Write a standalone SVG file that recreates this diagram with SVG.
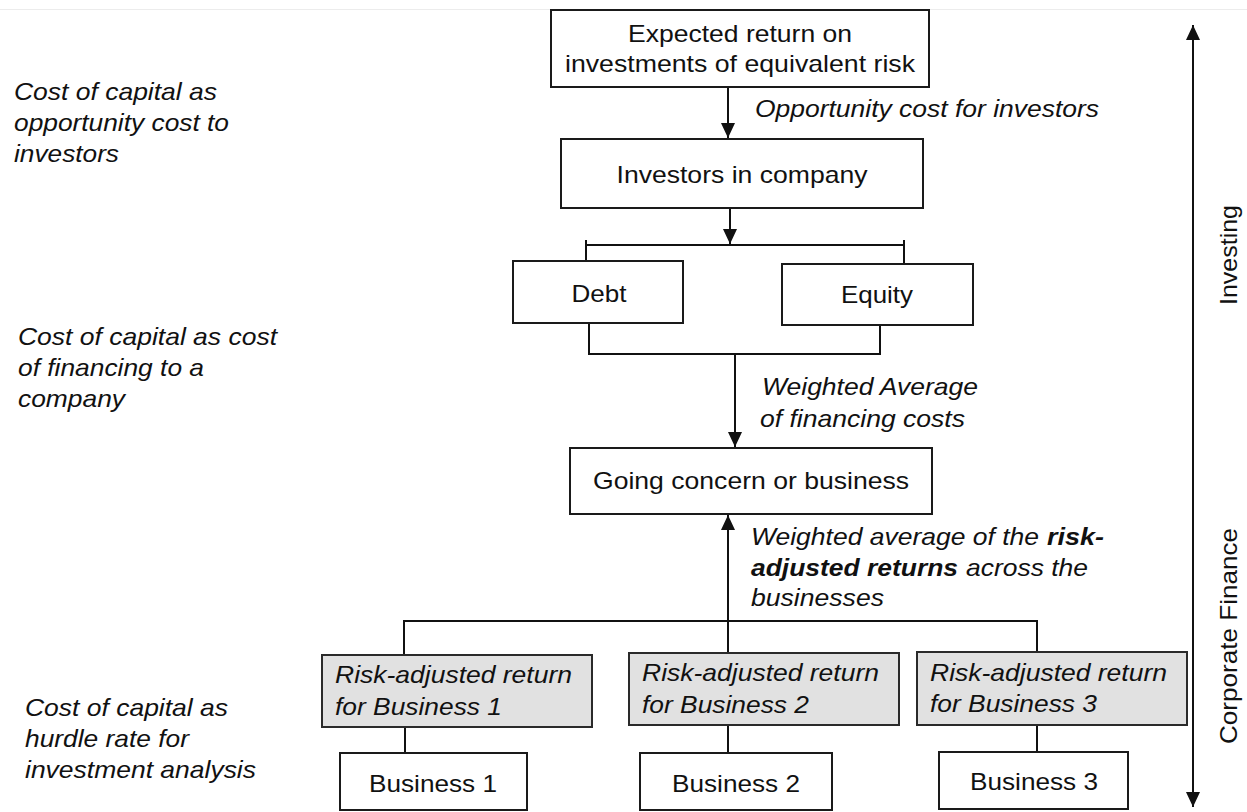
<svg xmlns="http://www.w3.org/2000/svg" width="1247" height="812" viewBox="0 0 1247 812">
  <style>
    .t { font-family: "Liberation Sans", Arial, sans-serif; font-size: 24px; fill: #111; }
    .i { font-style: italic; }
    .b { font-weight: bold; }
    .m { text-anchor: middle; }
    .box { fill: #fff; stroke: #1a1a1a; stroke-width: 2; }
    .gbox { fill: #e1e1e1; stroke: #2a2a2a; stroke-width: 2; }
    .ln { fill: none; stroke: #111; stroke-width: 2; }
  </style>
  <defs>
    <marker id="ah" markerUnits="userSpaceOnUse" markerWidth="16" markerHeight="14" refX="15" refY="7" orient="auto-start-reverse">
      <path d="M0,0 L15,7 L0,14 z" fill="#111"/>
    </marker>
  </defs>
  <rect x="0" y="0" width="1247" height="812" fill="#fff"/>
  <line x1="0" y1="9.5" x2="1247" y2="9.5" stroke="#ececec" stroke-width="1"/>

  <g id="connectors">
    <line class="ln" x1="728" y1="87" x2="728" y2="138" marker-end="url(#ah)"/>
    <line class="ln" x1="730" y1="208" x2="730" y2="244" marker-end="url(#ah)"/>
    <polyline class="ln" points="586,261 586,245 904,245 904,264"/>
    <line class="ln" x1="586" y1="240" x2="586" y2="245"/>
    <line class="ln" x1="904" y1="240" x2="904" y2="245"/>
    <polyline class="ln" points="589,323 589,354 880,354 880,325"/>
    <line class="ln" x1="735" y1="354" x2="735" y2="447" marker-end="url(#ah)"/>
    <line class="ln" x1="728" y1="621" x2="728" y2="515" marker-end="url(#ah)"/>
    <polyline class="ln" points="404,655 404,621 1037,621 1037,652"/>
    <line class="ln" x1="728" y1="621" x2="728" y2="653"/>
    <line class="ln" x1="405" y1="727" x2="405" y2="753"/>
    <line class="ln" x1="728" y1="725" x2="728" y2="753"/>
    <line class="ln" x1="1037" y1="725" x2="1037" y2="752"/>
    <line class="ln" x1="1193" y1="25" x2="1193" y2="807" marker-start="url(#ah)" marker-end="url(#ah)"/>
  </g>

  <g id="expected-return">
    <rect class="box" x="551" y="10" width="378" height="77"/>
    <text class="t m" x="740" y="42" textLength="224" lengthAdjust="spacingAndGlyphs">Expected return on</text>
    <text class="t m" x="740" y="72" textLength="350" lengthAdjust="spacingAndGlyphs">investments of equivalent risk</text>
  </g>
  <g id="label-opportunity">
    <text class="t i" x="755" y="117" textLength="344" lengthAdjust="spacingAndGlyphs">Opportunity cost for investors</text>
  </g>
  <g id="investors">
    <rect class="box" x="561" y="139" width="362" height="69"/>
    <text class="t m" x="742" y="183" textLength="251" lengthAdjust="spacingAndGlyphs">Investors in company</text>
  </g>
  <g id="debt">
    <rect class="box" x="513" y="261" width="170" height="62"/>
    <text class="t m" x="599" y="302" textLength="55" lengthAdjust="spacingAndGlyphs">Debt</text>
  </g>
  <g id="equity">
    <rect class="box" x="782" y="264" width="191" height="61"/>
    <text class="t m" x="877" y="303" textLength="72" lengthAdjust="spacingAndGlyphs">Equity</text>
  </g>
  <g id="label-wacc">
    <text class="t i" x="762" y="395" textLength="216" lengthAdjust="spacingAndGlyphs">Weighted Average</text>
    <text class="t i" x="760" y="427" textLength="205" lengthAdjust="spacingAndGlyphs">of financing costs</text>
  </g>
  <g id="going-concern">
    <rect class="box" x="570" y="448" width="362" height="66"/>
    <text class="t m" x="751" y="489" textLength="316" lengthAdjust="spacingAndGlyphs">Going concern or business</text>
  </g>
  <g id="label-risk-adjusted">
    <text class="t i" x="751" y="545" textLength="288" lengthAdjust="spacingAndGlyphs">Weighted average of the</text>
    <text class="t i b" x="1047" y="545" textLength="57" lengthAdjust="spacingAndGlyphs">risk-</text>
    <text class="t i b" x="751" y="576" textLength="207" lengthAdjust="spacingAndGlyphs">adjusted returns</text>
    <text class="t i" x="966" y="576" textLength="122" lengthAdjust="spacingAndGlyphs">across the</text>
    <text class="t i" x="751" y="606" textLength="133" lengthAdjust="spacingAndGlyphs">businesses</text>
  </g>
  <g id="ra1">
    <rect class="gbox" x="322" y="655" width="270" height="72"/>
    <text class="t i" x="335" y="683" textLength="237" lengthAdjust="spacingAndGlyphs">Risk-adjusted return</text>
    <text class="t i" x="335" y="715" textLength="167" lengthAdjust="spacingAndGlyphs">for Business 1</text>
  </g>
  <g id="ra2">
    <rect class="gbox" x="629" y="653" width="270" height="72"/>
    <text class="t i" x="642" y="681" textLength="237" lengthAdjust="spacingAndGlyphs">Risk-adjusted return</text>
    <text class="t i" x="642" y="713" textLength="167" lengthAdjust="spacingAndGlyphs">for Business 2</text>
  </g>
  <g id="ra3">
    <rect class="gbox" x="917" y="652" width="270" height="73"/>
    <text class="t i" x="930" y="681" textLength="237" lengthAdjust="spacingAndGlyphs">Risk-adjusted return</text>
    <text class="t i" x="930" y="712" textLength="167" lengthAdjust="spacingAndGlyphs">for Business 3</text>
  </g>
  <g id="business1">
    <rect class="box" x="340" y="753" width="187" height="57"/>
    <text class="t m" x="433" y="792" textLength="128" lengthAdjust="spacingAndGlyphs">Business 1</text>
  </g>
  <g id="business2">
    <rect class="box" x="640" y="753" width="192" height="57"/>
    <text class="t m" x="736" y="792" textLength="128" lengthAdjust="spacingAndGlyphs">Business 2</text>
  </g>
  <g id="business3">
    <rect class="box" x="939" y="752" width="189" height="57"/>
    <text class="t m" x="1034" y="790" textLength="128" lengthAdjust="spacingAndGlyphs">Business 3</text>
  </g>
  <g id="left-opportunity">
    <text class="t i" x="14" y="100" textLength="203" lengthAdjust="spacingAndGlyphs">Cost of capital as</text>
    <text class="t i" x="14" y="131" textLength="215" lengthAdjust="spacingAndGlyphs">opportunity cost to</text>
    <text class="t i" x="14" y="162" textLength="105" lengthAdjust="spacingAndGlyphs">investors</text>
  </g>
  <g id="left-financing">
    <text class="t i" x="18" y="345" textLength="259" lengthAdjust="spacingAndGlyphs">Cost of capital as cost</text>
    <text class="t i" x="18" y="376" textLength="186" lengthAdjust="spacingAndGlyphs">of financing to a</text>
    <text class="t i" x="18" y="407" textLength="107" lengthAdjust="spacingAndGlyphs">company</text>
  </g>
  <g id="left-hurdle">
    <text class="t i" x="25" y="716" textLength="203" lengthAdjust="spacingAndGlyphs">Cost of capital as</text>
    <text class="t i" x="25" y="747" textLength="164" lengthAdjust="spacingAndGlyphs">hurdle rate for</text>
    <text class="t i" x="25" y="778" textLength="231" lengthAdjust="spacingAndGlyphs">investment analysis</text>
  </g>
  <g id="axis-labels">
    <text class="t m" transform="translate(1237,255) rotate(-90)" x="0" y="0" textLength="100" lengthAdjust="spacingAndGlyphs">Investing</text>
    <text class="t m" transform="translate(1237,636) rotate(-90)" x="0" y="0" textLength="216" lengthAdjust="spacingAndGlyphs">Corporate Finance</text>
  </g>
</svg>
